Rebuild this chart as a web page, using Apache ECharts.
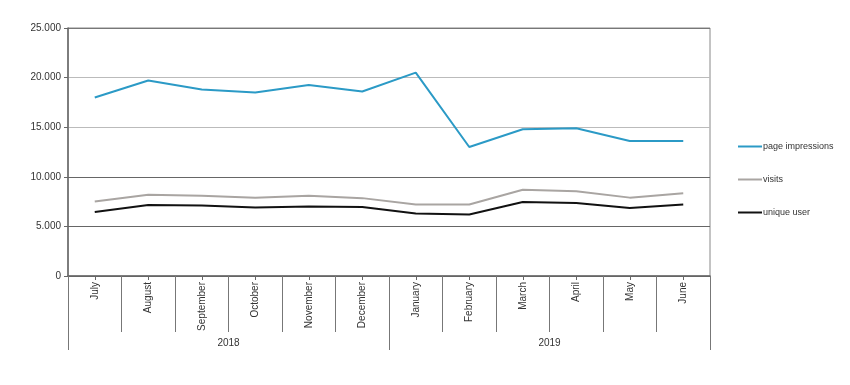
<!DOCTYPE html>
<html><head><meta charset="utf-8">
<script src="https://cdn.jsdelivr.net/npm/echarts@6/dist/echarts.min.js"></script>
<style>html,body{margin:0;padding:0;background:#fff}#c{width:850px;height:385px}</style>
</head><body><div id="c"></div>
<script>
var months = ['July','August','September','October','November','December','January','February','March','April','May','June'];
var years = ['2018','2019'];
var pageImpressions = [18000,19700,18800,18500,19250,18600,20500,13000,14800,14900,13600,13600];
var visits = [7500,8200,8100,7900,8100,7850,7200,7200,8700,8550,7900,8350];
var uniqueUser = [6450,7150,7100,6900,7000,6950,6300,6200,7450,7350,6850,7200];
var yTicks = [0,5000,10000,15000,20000,25000];

var font = 'Liberation Sans, Arial, sans-serif';
var chart = echarts.init(document.getElementById('c'));
chart.setOption({
  animation: false,
  grid: {left: 68, right: 140, top: 28, bottom: 109, show: true, borderColor: '#888', borderWidth: 1, backgroundColor: 'transparent'},
  legend: {
    orient: 'vertical', left: 733, top: 137, itemGap: 24, itemWidth: 24, itemHeight: 2,
    icon: 'rect',
    textStyle: {fontFamily: font, fontSize: 9, color: '#333', padding: [0,0,0,-4]},
    data: ['page impressions','visits','unique user']
  },
  xAxis: [
    {type: 'category', data: months, boundaryGap: true, position: 'bottom',
     axisLine: {show: true, lineStyle: {color: '#666', width: 1.5}},
     axisTick: {show: true, interval: 0, length: 56, lineStyle: {color: '#777'}},
     axisLabel: {rotate: 90, interval: 0, margin: 6, fontFamily: font, fontSize: 10, color: '#333'}},
    {type: 'category', data: months, boundaryGap: true, position: 'bottom',
     axisLine: {show: false},
     axisTick: {show: true, alignWithLabel: true, interval: 0, length: 4, lineStyle: {color: '#666'}},
     axisLabel: {show: false}},
    {type: 'category', data: years, boundaryGap: true, position: 'bottom',
     axisLine: {show: false},
     axisTick: {show: true, interval: 0, length: 74, lineStyle: {color: '#777'}},
     axisLabel: {interval: 0, margin: 62, fontFamily: font, fontSize: 10, color: '#333'}}
  ],
  yAxis: {
    type: 'value', min: 0, max: 25000, interval: 5000,
    axisLine: {show: true, lineStyle: {color: '#666', width: 1.5}},
    axisTick: {show: true, length: 4, lineStyle: {color: '#666'}},
    axisLabel: {fontFamily: font, fontSize: 10, color: '#333', margin: 7,
      formatter: function (v) { return v === 0 ? '0' : String(v).replace(/\B(?=(\d{3})+(?!\d))/g, '.'); }},
    splitLine: {show: true, lineStyle: {color: ['#666','#666','#666','#bbb','#bbb','#777'], width: 1}}
  },
  series: [
    {name: 'page impressions', type: 'line', data: pageImpressions, xAxisIndex: 0, symbol: 'none',
     lineStyle: {color: '#2b9ac6', width: 2}, itemStyle: {color: '#2b9ac6'}},
    {name: 'visits', type: 'line', data: visits, xAxisIndex: 0, symbol: 'none',
     lineStyle: {color: '#a9a5a2', width: 2}, itemStyle: {color: '#a9a5a2'}},
    {name: 'unique user', type: 'line', data: uniqueUser, xAxisIndex: 0, symbol: 'none',
     lineStyle: {color: '#111', width: 2}, itemStyle: {color: '#111'}}
  ]
});
</script></body></html>
